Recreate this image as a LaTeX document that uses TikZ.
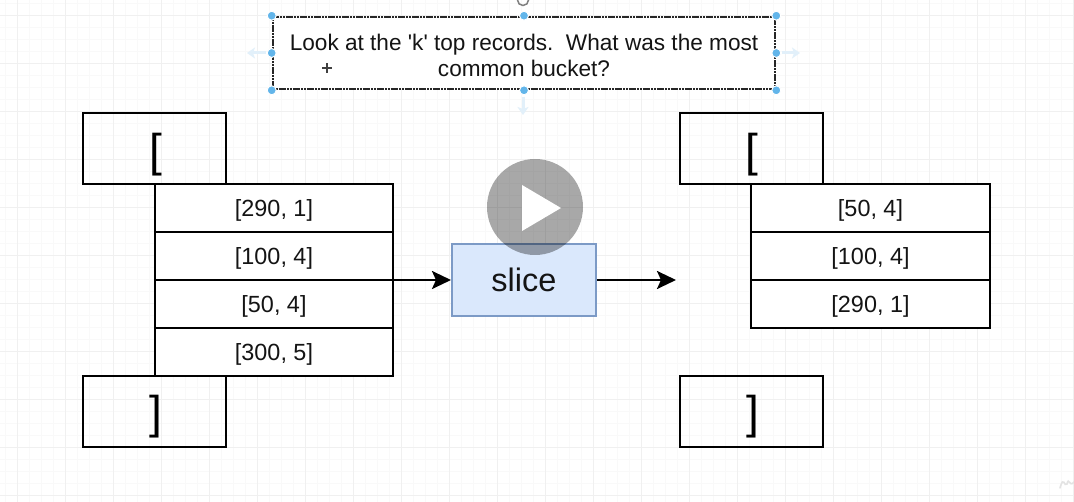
\documentclass[tikz,border=0pt]{standalone}
\usepackage{fontspec}
\setmainfont{Liberation Sans}
\usetikzlibrary{arrows.meta}

\definecolor{gridmajor}{HTML}{F0F0F0}
\definecolor{gridminor}{HTML}{F9F9F9}
\definecolor{handle}{HTML}{62B5EA}
\definecolor{hint}{HTML}{E2F0FA}
\definecolor{slicefill}{HTML}{DAE8FC}
\definecolor{sliceline}{HTML}{7C9AC6}

\begin{document}
\begin{tikzpicture}[x=1pt,y=-1pt,
  brackbox/.style={draw,line width=2pt,minimum width=143pt,minimum height=71.5pt,inner sep=0pt},
  brack/.style={inner sep=0pt,font=\fontsize{46}{46}\selectfont},
  row/.style={draw,line width=2pt,fill=white,outer sep=0pt,minimum width=238.5pt,minimum height=48pt,inner sep=0pt,text=black!92,text depth=0pt,font=\fontsize{23.4}{26}\selectfont},
  link/.style={line width=2.6pt,-{Stealth[length=19pt,width=18pt,inset=4pt]}},
  hintarrow/.style={line width=3pt,hint,-{Stealth[length=8pt,width=11pt,inset=2pt]}},
  grab/.style={circle,fill=handle,draw=white,line width=1pt,minimum size=9pt,inner sep=0pt}]

\useasboundingbox (0,0) rectangle (1074,502);
\fill[white] (0,0) rectangle (1074,502);

\foreach \x in {5,17,...,1074} \draw[gridminor] (\x,0) -- (\x,502);
\foreach \y in {3,15,...,502} \draw[gridminor] (0,\y) -- (1074,\y);
\foreach \x in {17,65,...,1074} \draw[gridmajor] (\x,0) -- (\x,502);
\foreach \y in {15,63,...,502} \draw[gridmajor] (0,\y) -- (1074,\y);

% left list
\node[brackbox] (lopen) at (154.5,148.5) {};
\node[brack] (lopentext) at (155.5,155) {[};
\node[row] (lone) at (274,208) {[290, 1]};
\node[row] (ltwo) at (274,256) {[100, 4]};
\node[row] (lthree) at (274,304) {[50, 4]};
\node[row] (lfour) at (274,352) {[300, 5]};
\node[brackbox] (lclose) at (154.5,411.5) {};
\node[brack] (lclosetext) at (156,417) {]};

% right list
\node[brackbox] (ropen) at (751,148.5) {};
\node[brack] (ropentext) at (752,155) {[};
\node[row] (rone) at (870.5,208) {[50, 4]};
\node[row] (rtwo) at (870.5,256) {[100, 4]};
\node[row] (rthree) at (870.5,304) {[290, 1]};
\node[brackbox] (rclose) at (751,411.5) {};
\node[brack] (rclosetext) at (752.5,417) {]};

\node[draw=sliceline,fill=slicefill,line width=2pt,minimum width=144pt,minimum height=72pt,inner sep=0pt,text=black!92,font=\fontsize{32.5}{32.5}\selectfont] (slice) at (524,280) {slice};
\coordinate (out) at (676,280);

\draw[link] (lthree.north west) -- (slice.west);
\draw[link] (slice.east) -- (out);

% selected note
\node[draw=black!85,line width=2.6pt,dash pattern=on 2.2pt off 0.6pt,fill=white,minimum width=502pt,minimum height=72pt,inner sep=0pt] (note) at (524,53) {};
\node[align=center,inner sep=0pt,text=black!92,font=\fontsize{22.6}{26}\selectfont] (notetext) at (524,55.5)
  {Look at the \textquotesingle k\textquotesingle\ top records.\ \ What was the most\\common bucket?};

\node[circle,draw=gray,line width=1.5pt,minimum size=11pt,inner sep=0pt] (rotate) at (523,0) {};
\foreach \a in {north west,north,north east,west,east,south west,south,south east}
  \node[grab] at (note.\a) {};

\coordinate (hintl) at (266,53);
\coordinate (hintlend) at (247,53);
\coordinate (hintr) at (782,53);
\coordinate (hintrend) at (800,53);
\coordinate (hintd) at (523,97);
\coordinate (hintdend) at (523,115);
\draw[hintarrow] (hintl) -- (hintlend);
\draw[hintarrow] (hintr) -- (hintrend);
\draw[hintarrow] (hintd) -- (hintdend);

% cursor
\coordinate (cursor) at (327,68);
\draw[line width=2.2pt,black!75] ([xshift=-5pt]cursor) -- ([xshift=5pt]cursor);
\draw[line width=2.2pt,black!75] ([yshift=-5pt]cursor) -- ([yshift=5pt]cursor);

% play button
\fill[black,opacity=0.34] (535,207) circle (48pt);
\fill[white] (522,185) -- (561,208) -- (522,231) -- cycle;

% corner mark
\draw[gray!22,line width=1.6pt,line cap=round] (1060,488) .. controls (1064,474) and (1064,488) .. (1067,484) .. controls (1069,476) and (1069,488) .. (1074,482);

\end{tikzpicture}
\end{document}
